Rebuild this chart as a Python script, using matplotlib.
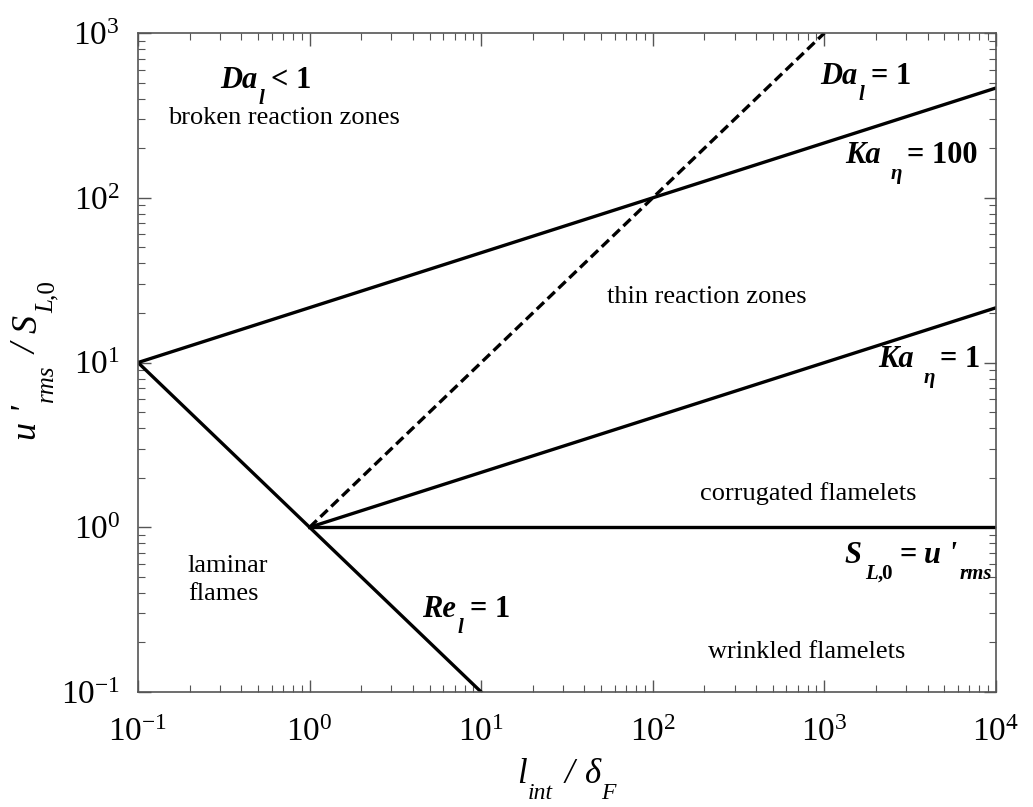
import numpy as np
import matplotlib.pyplot as plt
from matplotlib.ticker import LogLocator, NullFormatter

plt.rcParams['font.family'] = 'Liberation Serif'
plt.rcParams['mathtext.fontset'] = 'custom'
plt.rcParams['mathtext.rm'] = 'Liberation Serif'
plt.rcParams['mathtext.it'] = 'Liberation Serif:italic'
plt.rcParams['mathtext.bf'] = 'Liberation Serif:bold'
plt.rcParams['axes.unicode_minus'] = False

# boundary lines (l_int/delta_F, u'/S_L0)
re_x = [0.1, 10]
re_y = [10, 0.1]
ka100_x = [0.1, 1e4]
ka100_y = [10, 464]
ka1_x = [1, 1e4]
ka1_y = [1, 21.5]
da_x = [1, 1000]
da_y = [1, 1000]
sl_x = [1, 1e4]
sl_y = [1, 1]

fig = plt.figure(figsize=(10.33, 8.07), dpi=100)
ax = fig.add_axes([0.1336, 0.1425, 0.8305, 0.8165])

lw = 2.4
ax.plot(re_x, re_y, 'k-', lw=lw)
ax.plot(ka100_x, ka100_y, 'k-', lw=lw)
ax.plot(ka1_x, ka1_y, 'k-', lw=lw)
ax.plot(sl_x, sl_y, 'k-', lw=lw)
ax.plot(da_x, da_y, 'k--', lw=lw, dashes=(3, 1.5))

ax.set_xscale('log')
ax.set_yscale('log')
ax.set_xlim(0.1, 1e4)
ax.set_ylim(0.1, 1e3)

ax.xaxis.set_major_locator(LogLocator(base=10, numticks=10))
ax.yaxis.set_major_locator(LogLocator(base=10, numticks=10))
ax.xaxis.set_minor_locator(LogLocator(base=10, subs=np.arange(2, 10), numticks=20))
ax.yaxis.set_minor_locator(LogLocator(base=10, subs=np.arange(2, 10), numticks=20))
ax.xaxis.set_minor_formatter(NullFormatter())
ax.yaxis.set_minor_formatter(NullFormatter())
ax.tick_params(which='both', direction='in', top=True, right=True, color='#555555')
ax.tick_params(which='major', length=9, width=1, labelsize=24)
ax.tick_params(axis='x', which='major', pad=18)
ax.tick_params(axis='y', which='major', pad=13)
ax.tick_params(which='minor', length=5, width=0.8)
for s in ax.spines.values():
    s.set_color('#555555')
    s.set_linewidth(1.2)


def rich(x, y, parts, size, subsize, drop, weight='bold', vertical=False, transform=None):
    # parts: (text, kind, style, gap) with kind 'n' normal or 's' subscript
    tr = transform if transform is not None else ax.transData
    txt, kind, style, gap = parts[0]
    if vertical:
        base = ax.text(x, y, txt, fontsize=size, fontweight=weight, fontstyle=style,
                       rotation=90, ha='right', va='bottom', transform=tr)
    else:
        base = ax.text(x, y, txt, fontsize=size, fontweight=weight, fontstyle=style,
                       ha='left', va='baseline', transform=tr)
    prev = base
    for txt, kind, style, gap in parts[1:]:
        fs = size if kind == 'n' else subsize
        d = 0 if kind == 'n' else drop
        if vertical:
            prev = ax.annotate(txt, xy=(1, 1), xycoords=(base, prev), xytext=(d, gap),
                               textcoords='offset points', rotation=90, ha='right', va='bottom',
                               fontsize=fs, fontweight=weight, fontstyle=style)
        else:
            prev = ax.annotate(txt, xy=(1, 0), xycoords=(prev, base), xytext=(gap, -d),
                               textcoords='offset points', ha='left', va='bottom',
                               fontsize=fs, fontweight=weight, fontstyle=style)
    return base


big = 22
sub = 15
drop = 10
region = 19

rich(0.301, 463, [("Da", 'n', 'italic', 0), ("l", 's', 'italic', 1), ("< 1", 'n', 'normal', 5)], big, sub, drop)
ax.text(0.150, 280, "broken reaction zones", fontsize=region, ha='left', va='baseline')
rich(942, 490, [("Da", 'n', 'italic', 0), ("l", 's', 'italic', 1), ("= 1", 'n', 'normal', 5)], big, sub, drop)
rich(1318, 162, [("Ka", 'n', 'italic', 0), ("\u03b7", 's', 'italic', 7), ("= 100", 'n', 'normal', 4)], big, sub, drop)
ax.text(54.1, 23.0, "thin reaction zones", fontsize=region, ha='left', va='baseline')
rich(2050, 9.4, [("Ka", 'n', 'italic', 0), ("\u03b7", 's', 'italic', 7), ("= 1", 'n', 'normal', 4)], big, sub, drop)
ax.text(188, 1.46, "corrugated flamelets", fontsize=region, ha='left', va='baseline')
rich(1318, 0.607, [("S", 'n', 'italic', 0), ("L", 's', 'italic', 2), (",0", 's', 'normal', 0),
                   ("=", 'n', 'normal', 5), ("u '", 'n', 'italic', 5), ("rms", 's', 'italic', 2)],
     big, sub, drop)
ax.text(210, 0.161, "wrinkled flamelets", fontsize=region, ha='left', va='baseline')
ax.text(0.195, 0.535, "laminar", fontsize=region, ha='left', va='baseline')
ax.text(0.195, 0.361, "flames", fontsize=region, ha='left', va='baseline')
rich(4.52, 0.285, [("Re", 'n', 'italic', 0), ("l", 's', 'italic', 1), ("= 1", 'n', 'normal', 5)], big, sub, drop)

# axis labels
rich(0.5005, 0.0297, [("l", 'n', 'italic', 0), ("int", 's', 'italic', 1), ("/", 'n', 'italic', 8),
                      ("\u03b4", 'n', 'italic', 8), ("F", 's', 'italic', 0)],
     25, 17, 9, weight='normal', transform=fig.transFigure)
rich(0.0430, 0.4548, [("u '", 'n', 'italic', 0), ("rms", 's', 'italic', 2), ("/", 'n', 'italic', 8),
                      ("S", 'n', 'italic', 8), ("L", 's', 'italic', 1), (",0", 's', 'normal', 0)],
     26, 18, 10, weight='normal', vertical=True, transform=fig.transFigure)

fig.savefig('out.png', dpi=100)
